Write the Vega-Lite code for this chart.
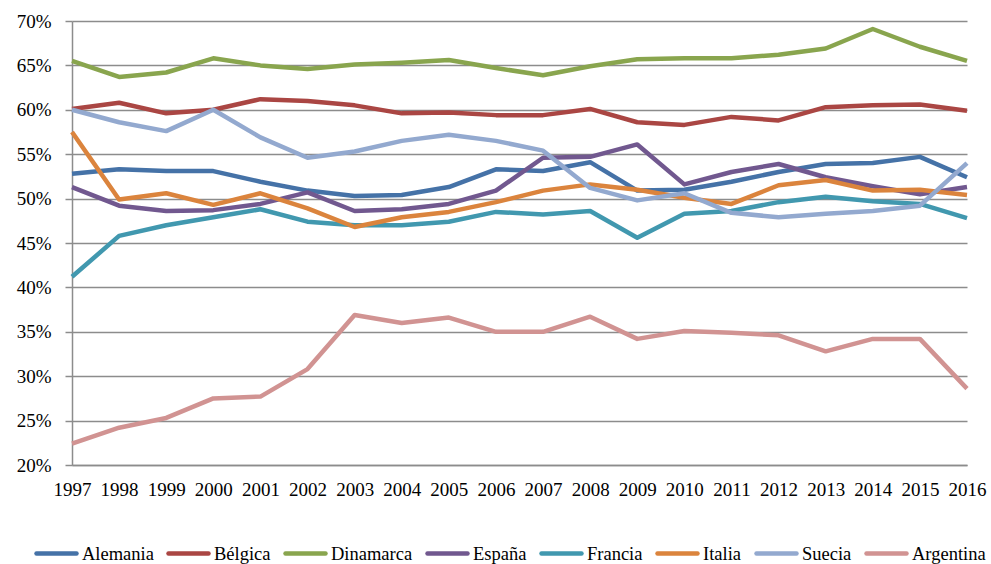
{
  "$schema": "https://vega.github.io/schema/vega-lite/v6.json",
  "autosize": {"type": "none"},
  "width": 895,
  "height": 444,
  "padding": {"left": 72, "top": 21, "right": 24, "bottom": 99},
  "background": "white",
  "config": {
    "view": {"stroke": null},
    "font": "Liberation Serif",
    "axis": {
      "labelFont": "Liberation Serif",
      "labelFontSize": 19,
      "labelColor": "#000000",
      "domainColor": "#8c8c8c",
      "domainWidth": 1.5,
      "tickColor": "#8c8c8c",
      "tickWidth": 1.5,
      "gridColor": "#8c8c8c",
      "gridWidth": 1.5,
      "gridOpacity": 1,
      "title": null
    },
    "legend": {
      "labelFont": "Liberation Serif",
      "labelFontSize": 18.5,
      "labelColor": "#000000"
    }
  },
  "data": {
    "values": [
      {"year": 1997, "pais": "Alemania", "v": 52.8},
      {"year": 1998, "pais": "Alemania", "v": 53.3},
      {"year": 1999, "pais": "Alemania", "v": 53.1},
      {"year": 2000, "pais": "Alemania", "v": 53.1},
      {"year": 2001, "pais": "Alemania", "v": 51.9},
      {"year": 2002, "pais": "Alemania", "v": 50.9},
      {"year": 2003, "pais": "Alemania", "v": 50.3},
      {"year": 2004, "pais": "Alemania", "v": 50.4},
      {"year": 2005, "pais": "Alemania", "v": 51.3},
      {"year": 2006, "pais": "Alemania", "v": 53.3},
      {"year": 2007, "pais": "Alemania", "v": 53.1},
      {"year": 2008, "pais": "Alemania", "v": 54.1},
      {"year": 2009, "pais": "Alemania", "v": 50.9},
      {"year": 2010, "pais": "Alemania", "v": 51.0},
      {"year": 2011, "pais": "Alemania", "v": 51.9},
      {"year": 2012, "pais": "Alemania", "v": 53.0},
      {"year": 2013, "pais": "Alemania", "v": 53.9},
      {"year": 2014, "pais": "Alemania", "v": 54.0},
      {"year": 2015, "pais": "Alemania", "v": 54.7},
      {"year": 2016, "pais": "Alemania", "v": 52.4},

      {"year": 1997, "pais": "Bélgica", "v": 60.1},
      {"year": 1998, "pais": "Bélgica", "v": 60.8},
      {"year": 1999, "pais": "Bélgica", "v": 59.6},
      {"year": 2000, "pais": "Bélgica", "v": 60.0},
      {"year": 2001, "pais": "Bélgica", "v": 61.2},
      {"year": 2002, "pais": "Bélgica", "v": 61.0},
      {"year": 2003, "pais": "Bélgica", "v": 60.5},
      {"year": 2004, "pais": "Bélgica", "v": 59.6},
      {"year": 2005, "pais": "Bélgica", "v": 59.7},
      {"year": 2006, "pais": "Bélgica", "v": 59.4},
      {"year": 2007, "pais": "Bélgica", "v": 59.4},
      {"year": 2008, "pais": "Bélgica", "v": 60.1},
      {"year": 2009, "pais": "Bélgica", "v": 58.6},
      {"year": 2010, "pais": "Bélgica", "v": 58.3},
      {"year": 2011, "pais": "Bélgica", "v": 59.2},
      {"year": 2012, "pais": "Bélgica", "v": 58.8},
      {"year": 2013, "pais": "Bélgica", "v": 60.3},
      {"year": 2014, "pais": "Bélgica", "v": 60.5},
      {"year": 2015, "pais": "Bélgica", "v": 60.6},
      {"year": 2016, "pais": "Bélgica", "v": 59.9},

      {"year": 1997, "pais": "Dinamarca", "v": 65.5},
      {"year": 1998, "pais": "Dinamarca", "v": 63.7},
      {"year": 1999, "pais": "Dinamarca", "v": 64.2},
      {"year": 2000, "pais": "Dinamarca", "v": 65.8},
      {"year": 2001, "pais": "Dinamarca", "v": 65.0},
      {"year": 2002, "pais": "Dinamarca", "v": 64.6},
      {"year": 2003, "pais": "Dinamarca", "v": 65.1},
      {"year": 2004, "pais": "Dinamarca", "v": 65.3},
      {"year": 2005, "pais": "Dinamarca", "v": 65.6},
      {"year": 2006, "pais": "Dinamarca", "v": 64.7},
      {"year": 2007, "pais": "Dinamarca", "v": 63.9},
      {"year": 2008, "pais": "Dinamarca", "v": 64.9},
      {"year": 2009, "pais": "Dinamarca", "v": 65.7},
      {"year": 2010, "pais": "Dinamarca", "v": 65.8},
      {"year": 2011, "pais": "Dinamarca", "v": 65.8},
      {"year": 2012, "pais": "Dinamarca", "v": 66.2},
      {"year": 2013, "pais": "Dinamarca", "v": 66.9},
      {"year": 2014, "pais": "Dinamarca", "v": 69.1},
      {"year": 2015, "pais": "Dinamarca", "v": 67.1},
      {"year": 2016, "pais": "Dinamarca", "v": 65.5},

      {"year": 1997, "pais": "España", "v": 51.3},
      {"year": 1998, "pais": "España", "v": 49.2},
      {"year": 1999, "pais": "España", "v": 48.6},
      {"year": 2000, "pais": "España", "v": 48.7},
      {"year": 2001, "pais": "España", "v": 49.4},
      {"year": 2002, "pais": "España", "v": 50.7},
      {"year": 2003, "pais": "España", "v": 48.6},
      {"year": 2004, "pais": "España", "v": 48.8},
      {"year": 2005, "pais": "España", "v": 49.4},
      {"year": 2006, "pais": "España", "v": 50.9},
      {"year": 2007, "pais": "España", "v": 54.6},
      {"year": 2008, "pais": "España", "v": 54.7},
      {"year": 2009, "pais": "España", "v": 56.1},
      {"year": 2010, "pais": "España", "v": 51.6},
      {"year": 2011, "pais": "España", "v": 53.0},
      {"year": 2012, "pais": "España", "v": 53.9},
      {"year": 2013, "pais": "España", "v": 52.4},
      {"year": 2014, "pais": "España", "v": 51.4},
      {"year": 2015, "pais": "España", "v": 50.5},
      {"year": 2016, "pais": "España", "v": 51.3},

      {"year": 1997, "pais": "Francia", "v": 41.2},
      {"year": 1998, "pais": "Francia", "v": 45.8},
      {"year": 1999, "pais": "Francia", "v": 47.0},
      {"year": 2000, "pais": "Francia", "v": 47.9},
      {"year": 2001, "pais": "Francia", "v": 48.8},
      {"year": 2002, "pais": "Francia", "v": 47.4},
      {"year": 2003, "pais": "Francia", "v": 47.0},
      {"year": 2004, "pais": "Francia", "v": 47.0},
      {"year": 2005, "pais": "Francia", "v": 47.4},
      {"year": 2006, "pais": "Francia", "v": 48.5},
      {"year": 2007, "pais": "Francia", "v": 48.2},
      {"year": 2008, "pais": "Francia", "v": 48.6},
      {"year": 2009, "pais": "Francia", "v": 45.6},
      {"year": 2010, "pais": "Francia", "v": 48.3},
      {"year": 2011, "pais": "Francia", "v": 48.6},
      {"year": 2012, "pais": "Francia", "v": 49.6},
      {"year": 2013, "pais": "Francia", "v": 50.2},
      {"year": 2014, "pais": "Francia", "v": 49.7},
      {"year": 2015, "pais": "Francia", "v": 49.4},
      {"year": 2016, "pais": "Francia", "v": 47.8},

      {"year": 1997, "pais": "Italia", "v": 57.5},
      {"year": 1998, "pais": "Italia", "v": 49.9},
      {"year": 1999, "pais": "Italia", "v": 50.6},
      {"year": 2000, "pais": "Italia", "v": 49.3},
      {"year": 2001, "pais": "Italia", "v": 50.6},
      {"year": 2002, "pais": "Italia", "v": 48.9},
      {"year": 2003, "pais": "Italia", "v": 46.8},
      {"year": 2004, "pais": "Italia", "v": 47.9},
      {"year": 2005, "pais": "Italia", "v": 48.5},
      {"year": 2006, "pais": "Italia", "v": 49.6},
      {"year": 2007, "pais": "Italia", "v": 50.9},
      {"year": 2008, "pais": "Italia", "v": 51.6},
      {"year": 2009, "pais": "Italia", "v": 51.0},
      {"year": 2010, "pais": "Italia", "v": 50.1},
      {"year": 2011, "pais": "Italia", "v": 49.4},
      {"year": 2012, "pais": "Italia", "v": 51.5},
      {"year": 2013, "pais": "Italia", "v": 52.1},
      {"year": 2014, "pais": "Italia", "v": 50.9},
      {"year": 2015, "pais": "Italia", "v": 51.0},
      {"year": 2016, "pais": "Italia", "v": 50.4},

      {"year": 1997, "pais": "Suecia", "v": 60.0},
      {"year": 1998, "pais": "Suecia", "v": 58.6},
      {"year": 1999, "pais": "Suecia", "v": 57.6},
      {"year": 2000, "pais": "Suecia", "v": 60.0},
      {"year": 2001, "pais": "Suecia", "v": 56.9},
      {"year": 2002, "pais": "Suecia", "v": 54.6},
      {"year": 2003, "pais": "Suecia", "v": 55.3},
      {"year": 2004, "pais": "Suecia", "v": 56.5},
      {"year": 2005, "pais": "Suecia", "v": 57.2},
      {"year": 2006, "pais": "Suecia", "v": 56.5},
      {"year": 2007, "pais": "Suecia", "v": 55.4},
      {"year": 2008, "pais": "Suecia", "v": 51.2},
      {"year": 2009, "pais": "Suecia", "v": 49.8},
      {"year": 2010, "pais": "Suecia", "v": 50.6},
      {"year": 2011, "pais": "Suecia", "v": 48.4},
      {"year": 2012, "pais": "Suecia", "v": 47.9},
      {"year": 2013, "pais": "Suecia", "v": 48.3},
      {"year": 2014, "pais": "Suecia", "v": 48.6},
      {"year": 2015, "pais": "Suecia", "v": 49.2},
      {"year": 2016, "pais": "Suecia", "v": 54.0},

      {"year": 1997, "pais": "Argentina", "v": 22.4},
      {"year": 1998, "pais": "Argentina", "v": 24.2},
      {"year": 1999, "pais": "Argentina", "v": 25.3},
      {"year": 2000, "pais": "Argentina", "v": 27.5},
      {"year": 2001, "pais": "Argentina", "v": 27.7},
      {"year": 2002, "pais": "Argentina", "v": 30.8},
      {"year": 2003, "pais": "Argentina", "v": 36.9},
      {"year": 2004, "pais": "Argentina", "v": 36.0},
      {"year": 2005, "pais": "Argentina", "v": 36.6},
      {"year": 2006, "pais": "Argentina", "v": 35.0},
      {"year": 2007, "pais": "Argentina", "v": 35.0},
      {"year": 2008, "pais": "Argentina", "v": 36.7},
      {"year": 2009, "pais": "Argentina", "v": 34.2},
      {"year": 2010, "pais": "Argentina", "v": 35.1},
      {"year": 2011, "pais": "Argentina", "v": 34.9},
      {"year": 2012, "pais": "Argentina", "v": 34.6},
      {"year": 2013, "pais": "Argentina", "v": 32.8},
      {"year": 2014, "pais": "Argentina", "v": 34.2},
      {"year": 2015, "pais": "Argentina", "v": 34.2},
      {"year": 2016, "pais": "Argentina", "v": 28.6}
    ]
  },
  "mark": {"type": "line", "strokeWidth": 4.5, "strokeJoin": "round", "strokeCap": "butt"},
  "encoding": {
    "x": {
      "field": "year",
      "type": "quantitative",
      "scale": {"domain": [1997, 2016], "nice": false, "zero": false},
      "axis": {
        "values": [1997, 1998, 1999, 2000, 2001, 2002, 2003, 2004, 2005, 2006, 2007, 2008, 2009, 2010, 2011, 2012, 2013, 2014, 2015, 2016],
        "format": "d",
        "grid": false,
        "ticks": false,
        "domain": true,
        "labelPadding": 15,
        "labelFlush": false,
        "labelOverlap": false
      }
    },
    "y": {
      "field": "v",
      "type": "quantitative",
      "scale": {"domain": [20, 70], "nice": false, "zero": false},
      "axis": {
        "values": [20, 25, 30, 35, 40, 45, 50, 55, 60, 65, 70],
        "labelExpr": "datum.value + '%'",
        "grid": true,
        "ticks": true,
        "tickSize": 7,
        "labelPadding": 14,
        "domain": true
      }
    },
    "color": {
      "field": "pais",
      "type": "nominal",
      "sort": ["Alemania", "Bélgica", "Dinamarca", "España", "Francia", "Italia", "Suecia", "Argentina"],
      "scale": {
        "domain": ["Alemania", "Bélgica", "Dinamarca", "España", "Francia", "Italia", "Suecia", "Argentina"],
        "range": ["#4572A7", "#AA4643", "#89A54E", "#71588F", "#4198AF", "#DB843D", "#93A9CF", "#D19392"]
      },
      "legend": {
        "title": null,
        "orient": "none",
        "direction": "horizontal",
        "legendX": -38,
        "legendY": 510,
        "symbolType": "stroke",
        "symbolSize": 1600,
        "symbolStrokeWidth": 4.5,
        "labelOffset": 3,
        "columnPadding": 5,
        "encode": {
          "symbols": {"update": {"strokeCap": {"value": "round"}}}
        }
      }
    }
  }
}
